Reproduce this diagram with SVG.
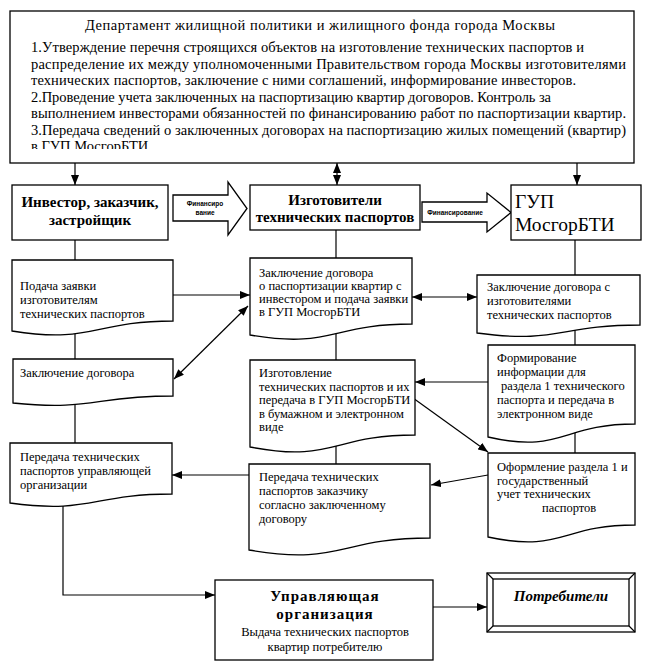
<svg xmlns="http://www.w3.org/2000/svg" width="647" height="668" viewBox="0 0 647 668" font-family="'Liberation Serif', 'DejaVu Serif', serif">
<defs>
<style>
.b{fill:#fff;stroke:#000;stroke-width:1.3}
.c{fill:none;stroke:#000;stroke-width:1.2}
.t{font-size:12.5px;fill:#000}
.tt{font-size:14.5px;fill:#000}
.h{font-size:15px;font-weight:bold;fill:#000}
.s{font-family:"Liberation Sans",Arial,sans-serif;font-size:6.5px;font-weight:bold;fill:#000}
</style>
<marker id="a" viewBox="0 0 10 8" refX="10" refY="4" markerWidth="10" markerHeight="8" markerUnits="userSpaceOnUse" orient="auto-start-reverse">
<path d="M0,0 L10,4 L0,8 Z" fill="#000"/>
</marker>
<clipPath id="cl"><rect x="10" y="10" width="630" height="139"/></clipPath>
</defs>

<g id="connectors">
<line class="c" x1="75" y1="163" x2="75" y2="185" marker-end="url(#a)"/>
<line class="c" x1="337" y1="163" x2="337" y2="185" marker-start="url(#a)" marker-end="url(#a)"/>
<line class="c" x1="577" y1="163" x2="577" y2="185" marker-end="url(#a)"/>
<line class="c" x1="75" y1="240" x2="75" y2="262"/>
<line class="c" x1="336" y1="230" x2="336" y2="258"/>
<line class="c" x1="575" y1="240" x2="575" y2="275"/>
<line class="c" x1="75" y1="328" x2="75" y2="359"/>
<line class="c" x1="75" y1="400" x2="75" y2="443"/>
<line class="c" x1="336" y1="328" x2="336" y2="360"/>
<line class="c" x1="336" y1="438" x2="336" y2="464"/>
<line class="c" x1="575" y1="326" x2="575" y2="345"/>
<line class="c" x1="575" y1="428" x2="575" y2="453"/>
<line class="c" x1="173" y1="295" x2="250" y2="295" marker-end="url(#a)"/>
<line class="c" x1="412" y1="297" x2="477" y2="297" marker-start="url(#a)" marker-end="url(#a)"/>
<line class="c" x1="248" y1="306" x2="174" y2="379" marker-start="url(#a)" marker-end="url(#a)"/>
<line class="c" x1="488" y1="382" x2="415" y2="382" marker-end="url(#a)"/>
<line class="c" x1="413" y1="398" x2="488" y2="452" marker-end="url(#a)"/>
<line class="c" x1="488" y1="475" x2="431" y2="485" marker-end="url(#a)"/>
<line class="c" x1="249" y1="475" x2="172" y2="475" marker-end="url(#a)"/>
<polyline class="c" points="63,503 63,595 215,595" marker-end="url(#a)"/>
<line class="c" x1="433" y1="607" x2="487" y2="607" marker-end="url(#a)"/>
</g>

<g id="department">
<rect class="b" x="10" y="11" width="624" height="152"/>
<text class="tt" x="85" y="30" textLength="470" lengthAdjust="spacing">Департамент  жилищной  политики  и  жилищного фонда  города  Москвы</text>
<text class="tt" x="31" y="52" textLength="553" lengthAdjust="spacing">1.Утверждение перечня строящихся объектов на изготовление технических паспортов  и</text>
<text class="tt" x="31" y="68.5" textLength="595" lengthAdjust="spacing">распределение их между уполномоченными Правительством  города Москвы изготовителями</text>
<text class="tt" x="31" y="85" textLength="545" lengthAdjust="spacing">технических паспортов, заключение с ними соглашений, информирование инвесторов.</text>
<text class="tt" x="31" y="101.5" textLength="520" lengthAdjust="spacing">2.Проведение учета заключенных на паспортизацию квартир договоров. Контроль за</text>
<text class="tt" x="31" y="118" textLength="595" lengthAdjust="spacing">выполнением инвесторами обязанностей по финансированию работ по паспортизации квартир.</text>
<text class="tt" x="31" y="134.5" textLength="595" lengthAdjust="spacing">3.Передача сведений о заключенных договорах на паспортизацию жилых помещений (квартир)</text>
<text class="tt" x="31" y="151" clip-path="url(#cl)">в ГУП МосгорБТИ</text>
</g>

<g id="investor">
<rect class="b" x="12" y="185" width="156" height="55"/>
<text class="h" x="90" y="207" text-anchor="middle">Инвестор, заказчик,</text>
<text class="h" x="90" y="225" text-anchor="middle">застройщик</text>
</g>

<g id="fin1">
<path class="b" d="M173,195 H228 V182 L247,208.5 L228,235 V221 H173 Z"/>
<text class="s" x="205" y="206" text-anchor="middle">Финансиро</text>
<text class="s" x="205" y="215" text-anchor="middle">вание</text>
</g>

<g id="makers">
<rect class="b" x="250" y="185" width="170" height="45"/>
<text class="h" x="335" y="205" text-anchor="middle">Изготовители</text>
<text class="h" x="335" y="222" text-anchor="middle">технических паспортов</text>
</g>

<g id="fin2">
<path class="b" d="M422,202 H487 V193 L511,212.5 L487,232 V222 H422 Z"/>
<text class="s" x="455" y="214.5" text-anchor="middle">Финансирование</text>
</g>

<g id="bti">
<rect class="b" x="511" y="185" width="130" height="55"/>
<text x="515" y="208" font-size="19.5">ГУП</text>
<text x="515" y="231" font-size="19.5">МосгорБТИ</text>
</g>

<g id="l1">
<path class="b" d="M12,260 H173 V321 C92.5,321 92.5,344 12,331 Z"/>
<text class="t" x="20" y="290">Подача заявки</text>
<text class="t" x="20" y="304">изготовителям</text>
<text class="t" x="20" y="318">технических паспортов</text>
</g>

<g id="l2">
<path class="b" d="M13,359 H173 V396 C93,396 93,411 13,403 Z"/>
<text class="t" x="20" y="377">Заключение договора</text>
</g>

<g id="l3">
<path class="b" d="M10,443 H172 V494 C91,494 91,514 10,503 Z"/>
<text class="t" x="20" y="461">Передача технических</text>
<text class="t" x="20" y="475">паспортов управляющей</text>
<text class="t" x="20" y="489">организации</text>
</g>

<g id="m1">
<path class="b" d="M250,258 H412 V324 C331,324 331,349 250,335 Z"/>
<text class="t" x="259" y="277">Заключение договора</text>
<text class="t" x="259" y="290">о паспортизации квартир с</text>
<text class="t" x="259" y="303">инвестором и подача заявки</text>
<text class="t" x="259" y="316">в ГУП МосгорБТИ</text>
</g>

<g id="m2">
<path class="b" d="M250,360 H415 V435 C332.5,435 332.5,463 250,447 Z"/>
<text class="t" x="259" y="377">Изготовление</text>
<text class="t" x="259" y="391">технических паспортов и их</text>
<text class="t" x="259" y="404">передача в ГУП МосгорБТИ</text>
<text class="t" x="259" y="418">в бумажном и электронном</text>
<text class="t" x="259" y="431">виде</text>
</g>

<g id="m3">
<path class="b" d="M249,464 H430 V538 C339.5,538 339.5,566 249,550 Z"/>
<text class="t" x="259" y="481">Передача технических</text>
<text class="t" x="259" y="495">паспортов заказчику</text>
<text class="t" x="259" y="509">согласно заключенному</text>
<text class="t" x="259" y="523">договору</text>
</g>

<g id="r1">
<path class="b" d="M477,275 H640 V325 C558.5,325 558.5,344 477,333 Z"/>
<text class="t" x="487" y="291">Заключение договора с</text>
<text class="t" x="487" y="305">изготовителями</text>
<text class="t" x="487" y="319">технических паспортов</text>
</g>

<g id="r2">
<path class="b" d="M488,345 H635 V424 C561.5,424 561.5,454 488,437 Z"/>
<text class="t" x="497" y="362">Формирование</text>
<text class="t" x="497" y="376">информации для</text>
<text class="t" x="501" y="390">раздела 1 технического</text>
<text class="t" x="497" y="404">паспорта и передача в</text>
<text class="t" x="497" y="418">электронном виде</text>
</g>

<g id="r3">
<path class="b" d="M488,453 H635 V525 C561.5,525 561.5,553 488,537 Z"/>
<text class="t" x="497" y="471">Оформление раздела 1 и</text>
<text class="t" x="497" y="485">государственный</text>
<text class="t" x="497" y="498">учет технических</text>
<text class="t" x="542" y="512">паспортов</text>
</g>

<g id="manager">
<rect class="b" x="215" y="580" width="218" height="80"/>
<text class="h" x="325" y="601" text-anchor="middle" font-size="17" letter-spacing="1">Управляющая</text>
<text class="h" x="325" y="619" text-anchor="middle" font-size="17" letter-spacing="1">организация</text>
<text class="t" x="325" y="636" text-anchor="middle">Выдача технических паспортов</text>
<text class="t" x="325" y="651" text-anchor="middle">квартир потребителю</text>
</g>

<g id="consumers">
<rect class="b" x="487" y="573" width="148" height="59"/>
<rect class="b" x="493" y="579" width="136" height="47"/>
<path class="c" d="M487,573 L493,579 M635,573 L629,579 M487,632 L493,626 M635,632 L629,626"/>
<text class="h" x="561" y="601" text-anchor="middle" font-size="17" font-style="italic">Потребители</text>
</g>
</svg>
